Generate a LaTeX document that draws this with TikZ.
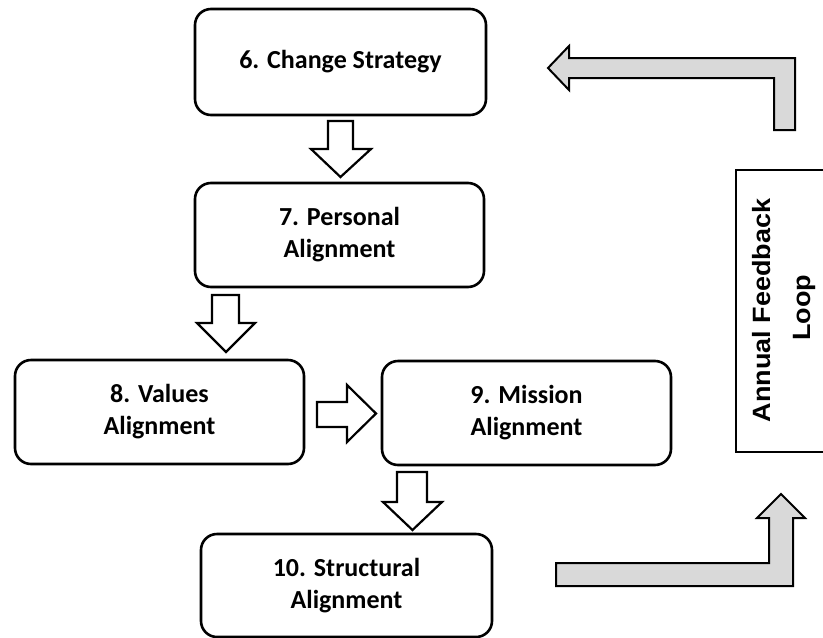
\documentclass[tikz,border=0pt]{standalone}
\usepackage{fontspec}
\setmainfont{Carlito}
\newfontfamily\arialfont{Liberation Sans}
\definecolor{arrowgray}{HTML}{D9D9D9}
\begin{document}
\begin{tikzpicture}[x=1pt,y=-1pt,
  stepbox/.style={draw=black, line width=2.6pt, rounded corners=16pt, fill=white,
    inner sep=0pt, align=center, font=\fontsize{26}{32}\selectfont\bfseries},
  blockarrow/.style={draw=black, line width=2.2pt, fill=white, line join=miter},
  grayarrow/.style={draw=black, line width=2pt, fill=arrowgray, line join=miter}]
\useasboundingbox (0,0) rectangle (823,638);
\fill[white] (0,0) rectangle (823,638);

% step boxes
\node[stepbox, minimum width=291pt, minimum height=106pt] (b6) at (340.5,62) {6. Change Strategy};
\node[stepbox, minimum width=289pt, minimum height=104pt] (b7) at (339.5,235) {7. Personal\\Alignment};
\node[stepbox, minimum width=289pt, minimum height=104pt] (b8) at (159.5,412) {8. Values\\Alignment};
\node[stepbox, minimum width=289pt, minimum height=104pt] (b9) at (526.5,413) {9. Mission\\Alignment};
\node[stepbox, minimum width=291pt, minimum height=103pt] (b10) at (346.5,585.5) {10. Structural\\Alignment};

% feedback loop box
\draw[line width=2.6pt] (836,170) -- (736,170) -- (736,452) -- (836,452);
\node[rotate=90, anchor=base, inner sep=0pt, font=\arialfont\fontsize{25}{30}\selectfont\bfseries]
  (loop1) at (770,310.5) {\scalebox{1.08}[1]{Annual Feedback}};
\node[rotate=90, anchor=base, inner sep=0pt, font=\arialfont\fontsize{25}{30}\selectfont\bfseries]
  (loop2) at (810,308) {\scalebox{1.08}[1]{Loop}};

% block arrows between steps
% 6 -> 7
\draw[blockarrow] (328,121) -- (353,121) -- (353,149) -- (371,149) -- (340.5,177)
  -- (311,149) -- (328,149) -- cycle;
% 7 -> 8
\draw[blockarrow] (212,295) -- (239,295) -- (239,323) -- (255,323) -- (226,352)
  -- (197,323) -- (212,323) -- cycle;
% 8 -> 9
\draw[blockarrow] (317,402) -- (347,402) -- (347,385) -- (376,413.5) -- (347,442)
  -- (347,427) -- (317,427) -- cycle;
% 9 -> 10
\draw[blockarrow] (397,472) -- (427,472) -- (427,502) -- (442,502) -- (412.5,530)
  -- (383,502) -- (397,502) -- cycle;

% gray feedback arrows
\draw[grayarrow] (548,68) -- (569,46) -- (569,58) -- (795,58) -- (795,130)
  -- (774,130) -- (774,78) -- (569,78) -- (569,90) -- cycle;
\draw[grayarrow] (556,563) -- (769,563) -- (769,518) -- (757,518) -- (781,494)
  -- (805,518) -- (793,518) -- (793,586) -- (556,586) -- cycle;
\end{tikzpicture}
\end{document}
